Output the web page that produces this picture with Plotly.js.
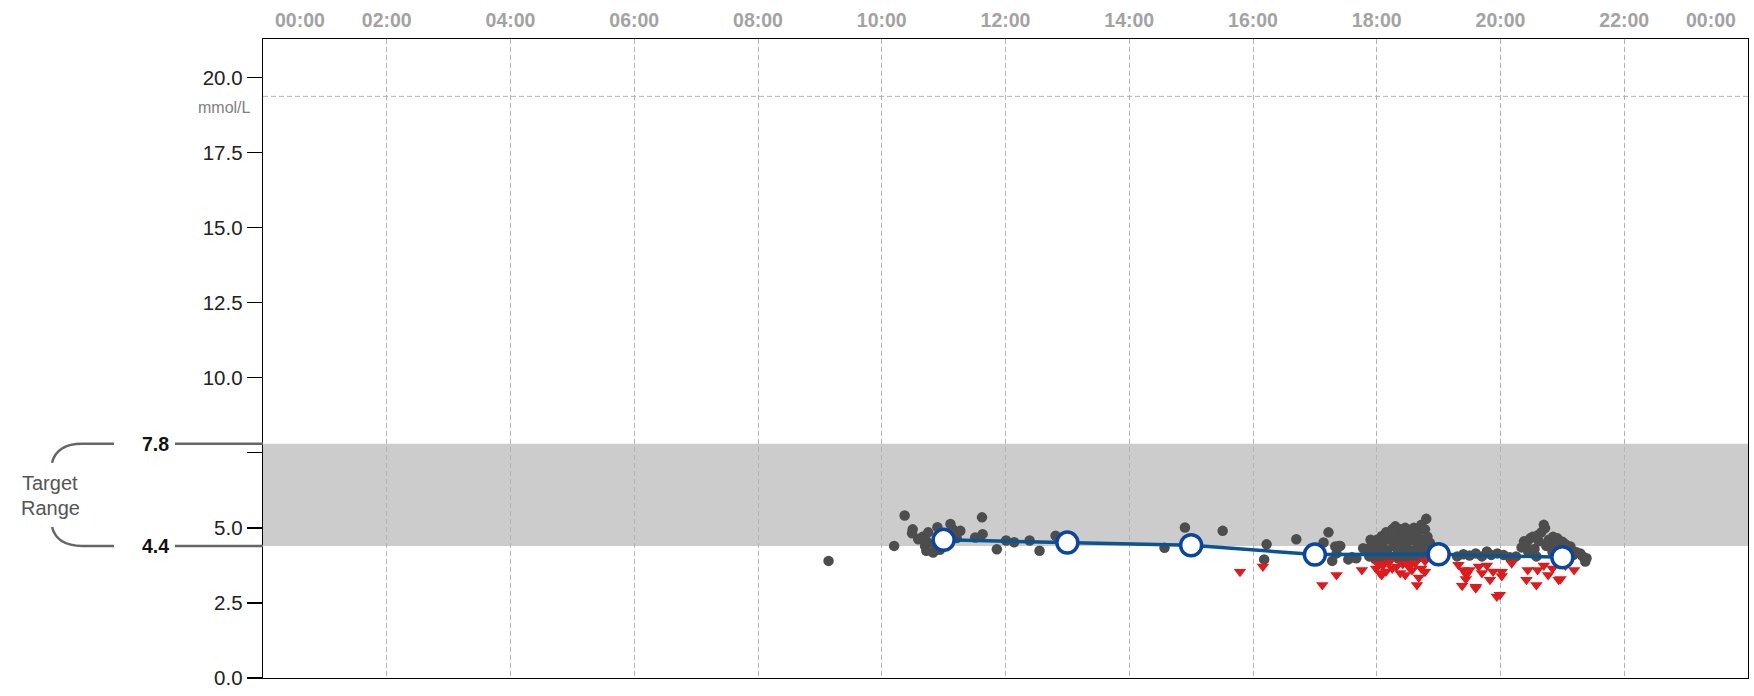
<!DOCTYPE html>
<html>
<head>
<meta charset="utf-8">
<script src="https://cdn.plot.ly/plotly-3.0.1.min.js"></script>
<style>html,body{margin:0;padding:0;background:#fff;}#chart{width:1754px;height:696px;}</style>
</head>
<body>
<div id="chart"></div>
<script>
// ---- data (hours of day, mmol/L) ----
const readingTime = [
  9.14,10.20,10.37,10.50,10.49,10.59,10.66,10.75,10.73,10.70,10.72,10.83,10.90,10.94,10.85,11.05,11.11,11.15,11.21,11.27,
  11.51,11.62,11.63,11.86,12.01,12.14,12.39,12.55,12.81,14.57,14.90,15.51,16.22,16.18,16.70,17.22,17.14,17.33,17.41,17.35,
  17.28,17.54,17.39,17.60,17.67,17.78,
  17.85,17.88,17.92,17.95,17.98,18.00,18.03,18.05,18.08,18.10,18.12,18.15,18.17,18.20,18.22,18.25,18.27,18.30,18.32,18.34,
  18.36,18.38,18.40,18.42,18.44,18.46,18.48,18.50,18.52,18.55,18.57,18.60,18.62,18.64,18.66,18.68,18.70,18.72,18.74,18.76,
  18.78,18.80,18.82,18.84,18.86,18.12,18.28,18.58,17.90,18.35,18.55,18.70,
  19.30,19.40,19.50,19.60,19.70,19.78,19.85,19.95,20.05,20.15,20.25,
  20.34,20.38,20.42,20.45,20.48,20.52,20.55,20.58,20.62,20.66,20.70,20.72,20.74,20.78,20.80,20.84,20.88,20.92,20.96,21.00,
  21.05,21.10,21.13,21.18,21.22,21.29,21.33,21.39,21.37,20.60,20.85
];
const readingValue = [
  3.90,4.40,5.41,4.95,4.82,4.62,4.70,4.85,4.54,4.40,4.24,4.18,5.02,4.27,4.45,4.60,5.13,4.95,4.66,4.90,
  4.68,5.35,4.79,4.29,4.58,4.52,4.58,4.24,4.74,4.34,5.01,4.90,4.45,3.95,4.62,4.85,4.51,4.38,4.40,4.15,
  3.90,3.95,4.40,4.02,3.99,4.32,
  4.30,4.05,4.45,4.20,3.95,4.60,4.35,4.10,4.72,4.50,3.95,4.85,4.25,4.62,4.05,4.95,4.40,5.05,4.75,4.15,
  4.55,4.95,3.95,4.30,4.70,5.00,4.45,4.10,4.85,4.60,4.25,5.00,4.75,3.98,4.45,4.90,4.20,5.10,4.60,4.35,
  4.95,5.30,4.70,4.10,4.50,4.70,4.85,4.90,4.60,3.98,3.95,4.05,
  4.05,4.12,4.08,4.15,4.05,4.21,4.10,4.15,4.10,4.02,4.05,
  4.35,4.55,4.49,4.20,4.65,4.70,4.30,4.05,4.55,4.85,5.10,4.99,4.40,4.60,4.54,4.20,4.50,4.65,4.30,4.54,
  4.45,4.30,4.38,4.10,4.20,4.15,4.05,3.99,3.88,4.75,4.70
];
const lowTime = [
  15.79,16.16,17.12,17.35,17.76,17.99,18.02,18.08,18.10,18.15,18.20,18.25,18.32,18.38,18.42,18.46,18.52,18.57,18.62,18.65,
  18.68,18.72,18.78,18.78,18.50,18.05,19.32,19.38,19.44,19.40,19.50,19.45,19.60,19.60,19.65,19.70,19.78,19.83,19.88,19.94,
  19.99,20.02,20.02,20.18,20.42,20.44,20.58,20.60,20.77,20.84,20.94,20.97,21.19,21.05,20.70
];
const lowValue = [
  3.54,3.71,3.10,3.43,3.60,3.65,3.80,3.43,3.75,3.55,3.85,3.65,3.71,3.50,3.80,3.43,3.70,3.60,3.82,3.10,
  3.35,3.65,3.54,3.90,3.80,3.50,3.77,3.07,3.30,3.60,3.60,3.45,2.99,3.04,3.71,3.50,3.75,3.27,3.55,2.71,
  2.77,3.54,3.40,3.82,3.27,3.60,3.10,3.60,3.43,3.65,3.27,3.30,3.60,3.75,3.75
];
const avgTime = [11, 13, 15, 17, 19, 21];
const avgValue = [4.60, 4.51, 4.42, 4.11, 4.12, 4.02];
const targetLow = 4.4, targetHigh = 7.8;
const dashedLevel = 19.37;
const yTickVals = [0, 2.5, 5, 7.5, 10, 12.5, 15, 17.5, 20];
const yTickText = ['0.0', '2.5', '5.0', '', '10.0', '12.5', '15.0', '17.5', '20.0'];
const xTickVals = [2, 4, 6, 8, 10, 12, 14, 16, 18, 20, 22];
const xTickText = ['02:00','04:00','06:00','08:00','10:00','12:00','14:00','16:00','18:00','20:00','22:00'];
const unitLabel = 'mmol/L';

// ---- layout helpers ----
const L = 263, W = 1485;           // plot left / width in px
const px = p => (p - L) / W;      // pixel x -> paper x
const yBracket = 0.63;            // bracket arc depth (mmol/L)
const sans = 'Liberation Sans, Arial, sans-serif';
const topFont = {family: sans, size: 19.5, color: '#a3a3a3', weight: 700};

const traces = [
  {x: readingTime, y: readingValue, type: 'scatter', mode: 'markers',
   marker: {color: '#4d4d4d', size: 10.5}, hoverinfo: 'skip'},
  {x: lowTime, y: lowValue, type: 'scatter', mode: 'markers',
   marker: {color: '#dc1c1f', size: 11, symbol: 'triangle-down'}, hoverinfo: 'skip'},
  {x: avgTime, y: avgValue, type: 'scatter', mode: 'lines+markers',
   line: {color: '#0b5391', width: 3.5},
   marker: {color: '#ffffff', size: 21, line: {color: '#0c45a0', width: 3.5}}, hoverinfo: 'skip'}
];

const brColor = '#666666';
const shapes = [
  {type: 'rect', xref: 'paper', yref: 'y', x0: 0, x1: 1, y0: targetLow, y1: targetHigh,
   fillcolor: '#cccccc', line: {width: 0}, layer: 'below'},
  {type: 'line', xref: 'paper', yref: 'y', x0: 0, x1: 1, y0: dashedLevel, y1: dashedLevel,
   line: {color: '#b3b3b3', width: 1, dash: '5px,3px'}, layer: 'below'},
  {type: 'line', xref: 'paper', yref: 'y', x0: px(175), x1: 0, y0: targetHigh, y1: targetHigh,
   line: {color: brColor, width: 2.5}},
  {type: 'line', xref: 'paper', yref: 'y', x0: px(175), x1: 0, y0: targetLow, y1: targetLow,
   line: {color: brColor, width: 2.5}},
  {type: 'path', xref: 'paper', yref: 'y',
   path: `M ${px(114)},${targetHigh} L ${px(82)},${targetHigh} Q ${px(57)},${targetHigh} ${px(52)},${targetHigh - yBracket}`,
   line: {color: brColor, width: 2.5}},
  {type: 'path', xref: 'paper', yref: 'y',
   path: `M ${px(114)},${targetLow} L ${px(82)},${targetLow} Q ${px(57)},${targetLow} ${px(52)},${targetLow + yBracket}`,
   line: {color: brColor, width: 2.5}}
];

const annotations = [
  {xref: 'paper', yref: 'y', x: 0, y: targetHigh, xanchor: 'center', yanchor: 'middle', xshift: -108,
   text: targetHigh.toFixed(1), showarrow: false,
   font: {family: sans, size: 19.5, color: '#111', weight: 700}},
  {xref: 'paper', yref: 'y', x: 0, y: targetLow, xanchor: 'center', yanchor: 'middle', xshift: -108,
   text: targetLow.toFixed(1), showarrow: false,
   font: {family: sans, size: 19.5, color: '#111', weight: 700}},
  {xref: 'paper', yref: 'paper', x: 0, y: 0, xanchor: 'center', yanchor: 'middle', xshift: -213, yshift: 195,
   text: 'Target', showarrow: false,
   font: {family: sans, size: 20, color: '#555'}},
  {xref: 'paper', yref: 'paper', x: 0, y: 0, xanchor: 'center', yanchor: 'middle', xshift: -213, yshift: 170,
   text: 'Range', showarrow: false,
   font: {family: sans, size: 20, color: '#555'}},
  {xref: 'paper', yref: 'y', x: 0, y: 19.0, xanchor: 'right', yanchor: 'middle', xshift: -10,
   text: unitLabel, showarrow: false,
   font: {family: sans, size: 16, color: '#808080'}},
  {xref: 'paper', yref: 'paper', x: 0, y: 1, xanchor: 'left', yanchor: 'middle', xshift: 10, yshift: 19,
   text: '00:00', showarrow: false, font: topFont},
  {xref: 'paper', yref: 'paper', x: 1, y: 1, xanchor: 'right', yanchor: 'middle', xshift: -10, yshift: 19,
   text: '00:00', showarrow: false, font: topFont}
];

const layout = {
  width: 1754, height: 696,
  margin: {l: L, r: 1754 - L - W, t: 39, b: 18, pad: 0},
  paper_bgcolor: '#ffffff', plot_bgcolor: '#ffffff',
  showlegend: false,
  xaxis: {
    range: [0, 24], side: 'top', tickmode: 'array', tickvals: xTickVals, ticktext: xTickText,
    ticks: '', ticklabelstandoff: 3, tickfont: topFont,
    showgrid: true, gridcolor: '#b3b3b3', gridwidth: 1, griddash: '5px,3px',
    zeroline: false, showline: true, mirror: true, linecolor: '#000', linewidth: 1.3, fixedrange: true
  },
  yaxis: {
    range: [0, 21.28], tickmode: 'array', tickvals: yTickVals, ticktext: yTickText,
    ticks: 'outside', ticklen: 15, tickcolor: '#000', tickwidth: 1.3,
    tickfont: {family: sans, size: 20.5, color: '#222'},
    showgrid: false, zeroline: false, showline: true, mirror: true, linecolor: '#000', linewidth: 1.3, fixedrange: true
  },
  shapes: shapes,
  annotations: annotations
};

Plotly.newPlot('chart', traces, layout, {displayModeBar: false, staticPlot: true});
</script>
</body>
</html>
